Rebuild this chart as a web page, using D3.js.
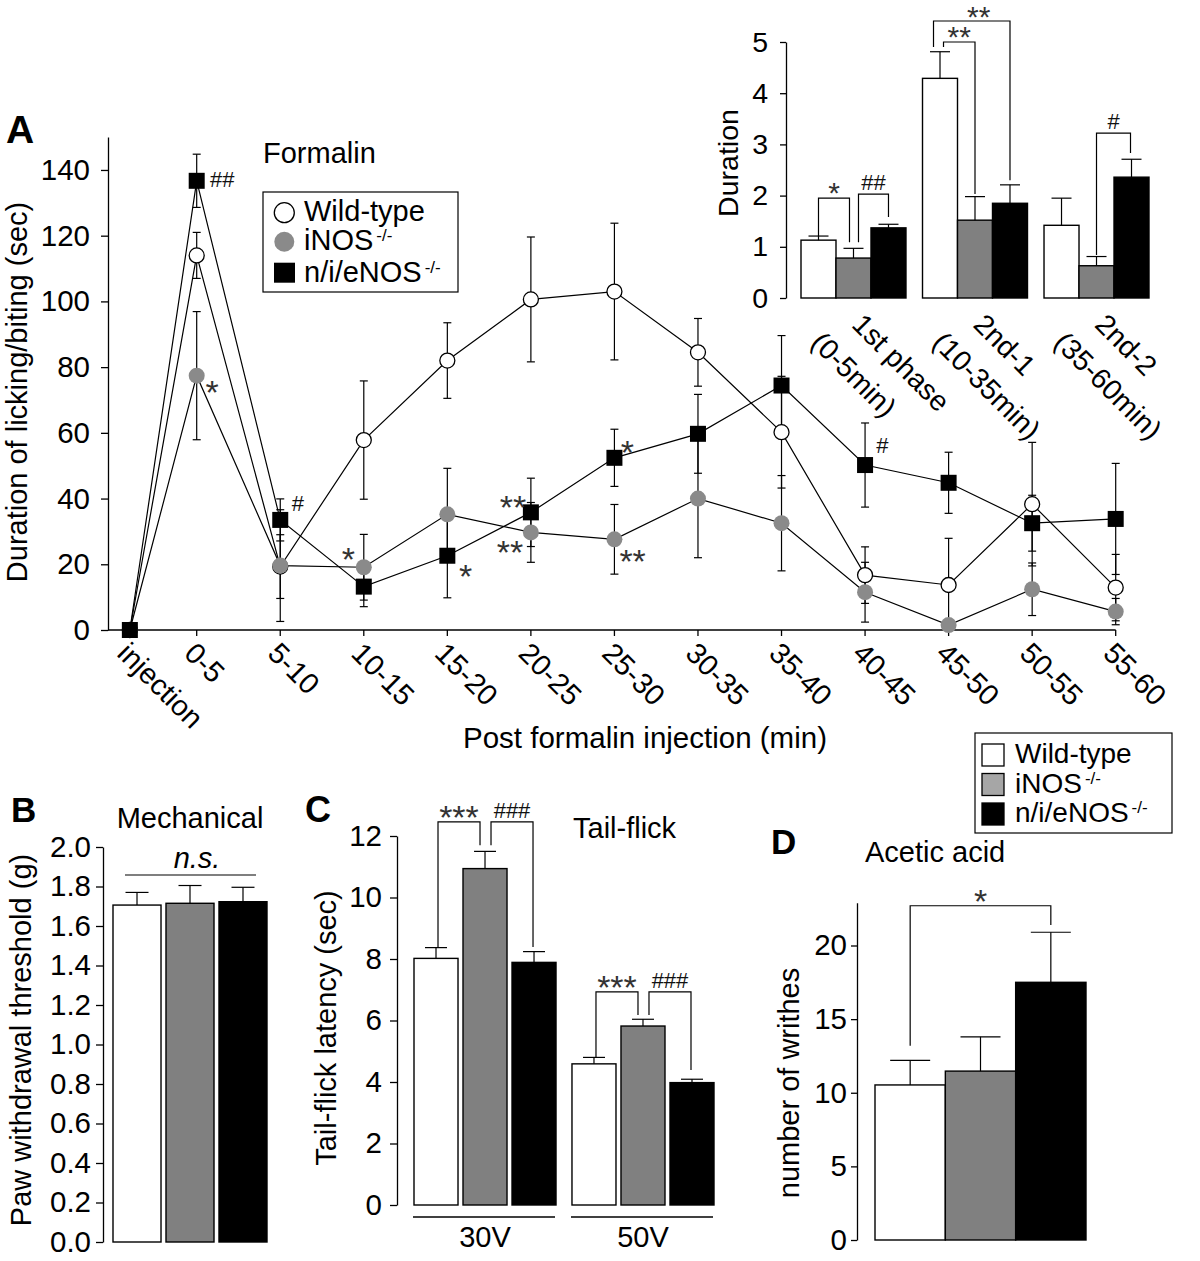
<!DOCTYPE html>
<html><head><meta charset="utf-8">
<script src="https://cdn.jsdelivr.net/npm/d3@7"></script>
<style>body{margin:0;background:#fff} svg{display:block}</style>
</head><body>
<svg id="c" width="1200" height="1261"></svg>
<script>
// ---------------- DATA ----------------
const seriesBase = ["Wild-type", "iNOS", "n/i/eNOS"];
const seriesSup  = ["", "-/-", "-/-"];

// Panel A – formalin time course (sec)
const timeLabels = ["injection","0-5","5-10","10-15","15-20","20-25","25-30","30-35","35-40","40-45","45-50","50-55","55-60"];
const timeMid    = [-1.5, 2.5, 7.5, 12.5, 17.5, 22.5, 27.5, 32.5, 37.5, 42.5, 47.5, 52.5, 57.5];
const aWT        = [0, 114, 19.3, 57.8, 82, 100.6, 103, 84.5, 60.2, 16.7, 13.7, 38.3, 12.9];
const aWTsem     = [0, 7, 9.7, 18, 11.5, 19, 20.8, 10.3, 17, 8.6, 14.2, 18.8, 10.1];
const aINOS      = [0, 77.4, 19.6, 19.1, 35.2, 29.7, 27.6, 40, 32.5, 11.5, 1.5, 12.4, 5.6];
const aINOSsem   = [0, 19.5, 17, 10, 14, 9.1, 10.6, 18, 14.5, 9.1, 1, 8, 4];
const aNIE       = [0, 136.7, 33.5, 13.2, 22.6, 35.8, 52.4, 59.7, 74.4, 50.2, 44.8, 32.5, 33.8];
const aNIEsem    = [0, 8.1, 6.4, 6.1, 12.8, 10.4, 8.7, 12, 15.2, 12.8, 9.3, 8.5, 16.9];
const aTicks     = [0, 20, 40, 60, 80, 100, 120, 140];
// significance marks in A: label, time (min), value at glyph centre
const aSigLabel  = ["##", "*", "#", "*", "*", "**", "**", "*", "**", "#"];
const aSigT      = [4.03, 3.43, 8.56, 11.57, 18.6, 21.43, 21.25, 28.27, 28.59, 43.53];
const aSigV      = [137.3, 74.8, 38.6, 23.8, 18.8, 39.8, 25.9, 56.5, 23.1, 56.3];

// Inset – duration per phase
const phaseLine1 = ["1st phase", "2nd-1", "2nd-2"];
const phaseLine2 = ["(0-5min)", "(10-35min)", "(35-60min)"];
const inWT       = [1.13, 4.29, 1.42];  const inWTsem   = [0.08, 0.52, 0.53];
const inINOS     = [0.78, 1.52, 0.63];  const inINOSsem = [0.19, 0.46, 0.18];
const inNIE      = [1.37, 1.85, 2.36];  const inNIEsem  = [0.07, 0.36, 0.35];
const inTicks    = [0, 1, 2, 3, 4, 5];
const inSigLabel = ["*", "##", "**", "**", "#"];
const inSigGroup = [0, 0, 1, 1, 2];
const inSigFrom  = [0, 1, 0, 0, 1];
const inSigTo    = [1, 2, 1, 2, 2];
const inSigTop   = [1.95, 2.03, 5.0, 5.41, 3.22];
const inSigFootL = [1.21, 1.09, 4.9, 4.9, 0.84];
const inSigFootR = [1.09, 1.58, 2.03, 2.3, 2.83];

// Panel B – mechanical threshold (g)
const bMean  = [1.706, 1.715, 1.723];
const bSem   = [0.064, 0.09, 0.073];
const bTicks = [0, 0.2, 0.4, 0.6, 0.8, 1.0, 1.2, 1.4, 1.6, 1.8, 2.0];

// Panel C – tail-flick latency (sec)
const cGroups   = ["30V", "50V"];
const cWT       = [8.02, 4.59];  const cWTsem   = [0.35, 0.21];
const cINOS     = [10.94, 5.82]; const cINOSsem = [0.56, 0.22];
const cNIE      = [7.89, 3.98];  const cNIEsem  = [0.35, 0.11];
const cTicks    = [0, 2, 4, 6, 8, 10, 12];
const cSigLabel = ["***", "###", "***", "###"];
const cSigGroup = [0, 0, 1, 1];
const cSigFrom  = [0, 1, 0, 1];
const cSigTo    = [1, 2, 1, 2];
const cSigTop   = [12.46, 12.46, 6.93, 6.93];
const cSigFootL = [8.39, 11.7, 4.81, 6.18];
const cSigFootR = [11.7, 8.39, 6.18, 4.39];

// Panel D – acetic acid writhing
const dMean  = [10.53, 11.47, 17.5];
const dSem   = [1.67, 2.33, 3.4];
const dTicks = [0, 5, 10, 15, 20];
const dSigTop = 22.7, dSigFootL = 13.2, dSigFootR = 21.4;

// ---------------- HELPERS ----------------
const FONT = "'Liberation Sans', Arial, Helvetica, sans-serif";
const barFill = ["#ffffff", "#808080", "#000000"];
const svg = d3.select("#c");
svg.append("rect").attr("width", 1200).attr("height", 1261).attr("fill", "#fff");

function txt(g, x, y, s, o = {}) {
  const t = g.append("text")
    .attr("x", x).attr("y", y)
    .attr("font-family", FONT)
    .attr("font-size", o.size || 29)
    .attr("fill", o.fill || "#000")
    .attr("text-anchor", o.anchor || "start");
  if (o.weight) t.attr("font-weight", o.weight);
  if (o.style) t.attr("font-style", o.style);
  if (o.rotate) t.attr("transform", `rotate(${o.rotate},${x},${y})`);
  t.text(s);
  return t;
}
function supTxt(g, x, y, base, sup, o = {}) {
  const t = txt(g, x, y, base, o);
  if (sup) t.append("tspan").attr("font-size", 17).attr("dx", 3).attr("dy", -9).text(sup);
  return t;
}
function yAxis(g, scale, x, ticks, fmt, tick, pad, size) {
  const ax = d3.axisLeft(scale).tickValues(ticks).tickFormat(fmt)
    .tickSize(tick).tickPadding(pad).tickSizeOuter(0);
  const a = g.append("g").attr("transform", `translate(${x},0)`).call(ax);
  a.selectAll("path,line").attr("stroke", "#000").attr("stroke-width", 1.3);
  a.selectAll("text").attr("font-family", FONT).attr("font-size", size).attr("fill", "#000");
  return a;
}
function bracket(g, xL, xR, yT, yL, yR) {
  g.append("path").attr("d", `M${xL},${yL}V${yT}H${xR}V${yR}`)
    .attr("fill", "none").attr("stroke", "#000").attr("stroke-width", 1.2);
}
function sigMark(g, cx, cy, label, starSize = 34) {
  const hash = label[0] === "#";
  const size = hash ? 22 : starSize;
  const base = hash ? cy + 7.9 : cy + 0.57 * starSize;
  txt(g, cx, base, label, { size, anchor: "middle", fill: hash ? "#111" : "#333" });
}
function sigAbove(g, cx, yLine, label, starSize = 34) {
  sigMark(g, cx, yLine - 12, label, starSize);
}
function errUp(g, cx, y0, y1, half) {
  g.append("line").attr("x1", cx).attr("x2", cx).attr("y1", y0).attr("y2", y1)
    .attr("stroke", "#000").attr("stroke-width", 1.2);
  g.append("line").attr("x1", cx - half).attr("x2", cx + half).attr("y1", y1).attr("y2", y1)
    .attr("stroke", "#000").attr("stroke-width", 1.2);
}
function bar(g, x, w, y, h, fill) {
  g.append("rect").attr("x", x).attr("y", y).attr("width", w).attr("height", h)
    .attr("fill", fill).attr("stroke", "#000").attr("stroke-width", 1.4);
}

// ---------------- PANEL A ----------------
const gA = svg.append("g");
const xA = d3.scaleLinear().domain([2.5, 57.5]).range([196.7, 1115.7]);
const yA = d3.scaleLinear().domain([0, 150]).range([630, 137.1]);
yAxis(gA, yA, 108, aTicks, d3.format("d"), 7, 11, 29.5);
// x axis
gA.append("line").attr("x1", 108).attr("x2", xA(57.5)).attr("y1", yA(0)).attr("y2", yA(0))
  .attr("stroke", "#000").attr("stroke-width", 1.3);
timeMid.forEach((t, i) => {
  gA.append("line").attr("x1", xA(t)).attr("x2", xA(t)).attr("y1", yA(0)).attr("y2", yA(0) + 6)
    .attr("stroke", "#000").attr("stroke-width", 1.3);
  txt(gA, xA(t) - 14, 655, timeLabels[i], { rotate: 45 });
});
txt(gA, 645, 748, "Post formalin injection (min)", { anchor: "middle", size: 29.5 });
txt(gA, 27, 392, "Duration of licking/biting (sec)", { anchor: "middle", rotate: -90 });
txt(gA, 6, 143, "A", { size: 39, weight: "bold" });
txt(gA, 263, 163, "Formalin");

const aSeries = [
  { mean: aWT, sem: aWTsem, kind: "open" },
  { mean: aINOS, sem: aINOSsem, kind: "gray" },
  { mean: aNIE, sem: aNIEsem, kind: "square" }
];
const line = d3.line().x(d => xA(d[0])).y(d => yA(d[1]));
aSeries.forEach(s => {
  gA.append("path").attr("d", line(timeMid.map((t, i) => [t, s.mean[i]])))
    .attr("fill", "none").attr("stroke", "#000").attr("stroke-width", 1.2);
});
aSeries.forEach(s => {
  timeMid.forEach((t, i) => {
    if (!s.sem[i]) return;
    const cx = xA(t), lo = yA(Math.max(0, s.mean[i] - s.sem[i])), hi = yA(s.mean[i] + s.sem[i]);
    gA.append("line").attr("x1", cx).attr("x2", cx).attr("y1", lo).attr("y2", hi)
      .attr("stroke", "#000").attr("stroke-width", 1.2);
    [lo, hi].forEach(yy => gA.append("line").attr("x1", cx - 4).attr("x2", cx + 4)
      .attr("y1", yy).attr("y2", yy).attr("stroke", "#000").attr("stroke-width", 1.2));
  });
});
aSeries.forEach(s => {
  timeMid.forEach((t, i) => {
    const cx = xA(t), cy = yA(s.mean[i]);
    if (s.kind === "open") gA.append("circle").attr("cx", cx).attr("cy", cy).attr("r", 7.5)
      .attr("fill", "#fff").attr("stroke", "#000").attr("stroke-width", 1.3);
    else if (s.kind === "gray") gA.append("circle").attr("cx", cx).attr("cy", cy).attr("r", 8)
      .attr("fill", "#8a8a8a");
    else gA.append("rect").attr("x", cx - 8).attr("y", cy - 8).attr("width", 16).attr("height", 16)
      .attr("fill", "#000");
  });
});
aSigLabel.forEach((l, i) => sigMark(gA, xA(aSigT[i]), yA(aSigV[i]), l));

// legend A
gA.append("rect").attr("x", 263).attr("y", 192).attr("width", 195).attr("height", 100)
  .attr("fill", "#fff").attr("stroke", "#000").attr("stroke-width", 1.2);
gA.append("circle").attr("cx", 284.3).attr("cy", 212.7).attr("r", 10)
  .attr("fill", "#fff").attr("stroke", "#000").attr("stroke-width", 1.3);
gA.append("circle").attr("cx", 284.3).attr("cy", 241.7).attr("r", 10).attr("fill", "#8a8a8a");
gA.append("rect").attr("x", 274).attr("y", 262.7).attr("width", 21).attr("height", 20).attr("fill", "#000");
[221, 250, 281.7].forEach((yy, i) => supTxt(gA, 304, yy, seriesBase[i], seriesSup[i]));

// ---------------- INSET ----------------
const gI = svg.append("g");
const yIn = d3.scaleLinear().domain([0, 5]).range([298, 42]);
const xInG = d3.scaleBand().domain([0, 1, 2]).range([801, 1149]).paddingInner(0.136);
const xInS = d3.scaleBand().domain([0, 1, 2]).range([0, xInG.bandwidth()]);
yAxis(gI, yIn, 786, inTicks, d3.format("d"), 6, 12, 28.5);
txt(gI, 738, 163, "Duration", { anchor: "middle", rotate: -90, size: 28.5 });
const inMeans = [inWT, inINOS, inNIE], inSems = [inWTsem, inINOSsem, inNIEsem];
const inCx = (g, s) => xInG(g) + xInS(s) + xInS.bandwidth() / 2;
[0, 1, 2].forEach(gi => {
  [0, 1, 2].forEach(si => {
    const v = inMeans[si][gi];
    bar(gI, xInG(gi) + xInS(si), xInS.bandwidth(), yIn(v), yIn(0) - yIn(v), barFill[si]);
    errUp(gI, inCx(gi, si), yIn(v), yIn(v + inSems[si][gi]), 10);
  });
  const cx = xInG(gi) + xInG.bandwidth() / 2;
  txt(gI, cx - 3, 326, phaseLine1[gi], { rotate: 45, size: 28.5 });
  txt(gI, cx - 44, 344, phaseLine2[gi], { rotate: 45, size: 28.5 });
});
const inLegDx = [[0, -4], [5, 0], [3.5, 0], [-6.5, 0], [0, -1]];
inSigLabel.forEach((l, k) => {
  const xL = inCx(inSigGroup[k], inSigFrom[k]) + inLegDx[k][0];
  const xR = inCx(inSigGroup[k], inSigTo[k]) + inLegDx[k][1];
  bracket(gI, xL, xR, yIn(inSigTop[k]), yIn(inSigFootL[k]), yIn(inSigFootR[k]));
  if (k === 3) sigMark(gI, (xL + xR) / 2 + 7, 10, l, 30);
  else sigAbove(gI, (xL + xR) / 2, yIn(inSigTop[k]), l, 30);
});

// ---------------- PANEL B ----------------
const gB = svg.append("g");
const yB = d3.scaleLinear().domain([0, 2]).range([1242, 847]);
const xB = d3.scaleBand().domain([0, 1, 2]).range([113, 267]).paddingInner(0.094);
yAxis(gB, yB, 103, bTicks, d3.format(".1f"), 7, 5, 29.5);
bMean.forEach((v, i) => {
  bar(gB, xB(i), xB.bandwidth(), yB(v), yB(0) - yB(v), barFill[i]);
  errUp(gB, xB(i) + xB.bandwidth() / 2, yB(v), yB(v + bSem[i]), 11.5);
});
gB.append("line").attr("x1", 125).attr("x2", 256).attr("y1", 875).attr("y2", 875)
  .attr("stroke", "#000").attr("stroke-width", 1.2);
txt(gB, 197, 868, "n.s.", { anchor: "middle", style: "italic" });
txt(gB, 31, 1040, "Paw withdrawal threshold (g)", { anchor: "middle", rotate: -90 });
txt(gB, 11, 822, "B", { size: 35, weight: "bold" });
txt(gB, 190, 828, "Mechanical", { anchor: "middle" });

// ---------------- PANEL C ----------------
const gC = svg.append("g");
const yC = d3.scaleLinear().domain([0, 12]).range([1205, 836]);
const xCG = d3.scaleBand().domain([0, 1]).range([414, 714]).paddingInner(0.101);
const xCS = d3.scaleBand().domain([0, 1, 2]).range([0, xCG.bandwidth()]).paddingInner(0.102);
yAxis(gC, yC, 397, cTicks, d3.format("d"), 7, 8, 29.5);
const cMeans = [cWT, cINOS, cNIE], cSems = [cWTsem, cINOSsem, cNIEsem];
const cCx = (g, s) => xCG(g) + xCS(s) + xCS.bandwidth() / 2;
cGroups.forEach((name, gi) => {
  [0, 1, 2].forEach(si => {
    const v = cMeans[si][gi];
    bar(gC, xCG(gi) + xCS(si), xCS.bandwidth(), yC(v), yC(0) - yC(v), barFill[si]);
    errUp(gC, cCx(gi, si), yC(v), yC(v + cSems[si][gi]), 11);
  });
  gC.append("line").attr("x1", xCG(gi) - 1).attr("x2", xCG(gi) + xCG.bandwidth() - 1)
    .attr("y1", 1217).attr("y2", 1217).attr("stroke", "#000").attr("stroke-width", 1.3);
  txt(gC, xCG(gi) + xCG.bandwidth() / 2, 1247, name, { anchor: "middle" });
});
const cLegDx = [[2, -5], [6, -1], [2, -5], [6, -1]];
cSigLabel.forEach((l, k) => {
  const xL = cCx(cSigGroup[k], cSigFrom[k]) + cLegDx[k][0];
  const xR = cCx(cSigGroup[k], cSigTo[k]) + cLegDx[k][1];
  bracket(gC, xL, xR, yC(cSigTop[k]), yC(cSigFootL[k]), yC(cSigFootR[k]));
  sigAbove(gC, (xL + xR) / 2, yC(cSigTop[k]), l);
});
txt(gC, 336, 1028, "Tail-flick latency (sec)", { anchor: "middle", rotate: -90 });
txt(gC, 305, 822, "C", { size: 36, weight: "bold" });
txt(gC, 573, 838, "Tail-flick");

// ---------------- PANEL D ----------------
const gD = svg.append("g");
const yD = d3.scaleLinear().domain([0, 22.9]).range([1240, 902.8]);
const xD = d3.scaleBand().domain([0, 1, 2]).range([875, 1086]);
yAxis(gD, yD, 857, dTicks, d3.format("d"), 6, 4, 29.5);
dMean.forEach((v, i) => {
  bar(gD, xD(i), xD.bandwidth(), yD(v), yD(0) - yD(v), barFill[i]);
  errUp(gD, xD(i) + xD.bandwidth() / 2, yD(v), yD(v + dSem[i]), 20);
});
{
  const xL = xD(0) + xD.bandwidth() / 2, xR = xD(2) + xD.bandwidth() / 2;
  bracket(gD, xL, xR, yD(dSigTop), yD(dSigFootL), yD(dSigFootR));
  sigAbove(gD, (xL + xR) / 2, yD(dSigTop), "*");
}
txt(gD, 799, 1083, "number of writhes", { anchor: "middle", rotate: -90 });
txt(gD, 771, 854, "D", { size: 35, weight: "bold" });
txt(gD, 865, 862, "Acetic acid");

// legend (bars)
gD.append("rect").attr("x", 975).attr("y", 733).attr("width", 197).attr("height", 100)
  .attr("fill", "#fff").attr("stroke", "#000").attr("stroke-width", 1.2);
const legSw = ["#ffffff", "#a6a6a6", "#000000"];
[744, 773.5, 803].forEach((yy, i) => {
  gD.append("rect").attr("x", 982).attr("y", yy).attr("width", 22).attr("height", 22)
    .attr("fill", legSw[i]).attr("stroke", "#000").attr("stroke-width", 1.3);
  supTxt(gD, 1015, yy + 19, seriesBase[i], seriesSup[i], { size: 28 });
});
</script>
</body></html>
